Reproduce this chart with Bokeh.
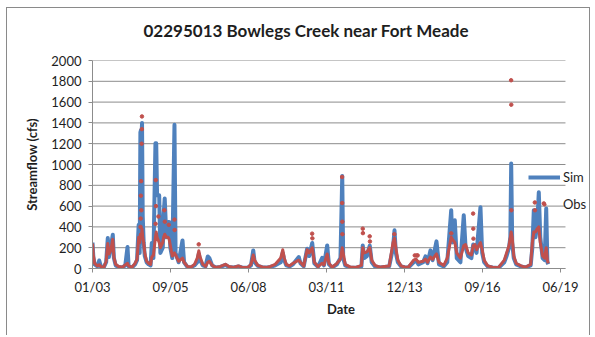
import pandas as pd
from bokeh.plotting import figure
from bokeh.models import FixedTicker, Legend, LegendItem, Range1d, DatetimeTickFormatter, Title
from bokeh.embed import file_html
from bokeh.resources import INLINE

# ---------------- data ----------------
dates = [
    # 2003
    "2003-01-01", "2003-01-12", "2003-01-28", "2003-03-05", "2003-03-28", "2003-04-20", "2003-05-25",
    "2003-06-25", "2003-07-16", "2003-07-30", "2003-08-22", "2003-09-18", "2003-10-02", "2003-10-25",
    "2003-12-01",
    # 2004
    "2004-01-20", "2004-02-25", "2004-03-25", "2004-04-08", "2004-05-20", "2004-06-30", "2004-07-25",
    "2004-08-15", "2004-08-28", "2004-09-06", "2004-09-14", "2004-09-20", "2004-09-27", "2004-10-06",
    "2004-10-18", "2004-11-01", "2004-11-25", "2004-12-20",
    # 2005
    "2005-01-15", "2005-01-30", "2005-02-20", "2005-03-18", "2005-03-28", "2005-04-08", "2005-05-05",
    "2005-05-20", "2005-06-20", "2005-07-01", "2005-07-15", "2005-08-05", "2005-08-28", "2005-09-10",
    "2005-09-25", "2005-10-20", "2005-11-17", "2005-12-01",
    # 2006
    "2006-01-10", "2006-02-28", "2006-03-20", "2006-05-01", "2006-06-15", "2006-08-01", "2006-09-05",
    "2006-09-25", "2006-10-12", "2006-11-15", "2006-12-20",
    # 2007
    "2007-01-18", "2007-02-08", "2007-03-15", "2007-05-01", "2007-07-01", "2007-09-02", "2007-10-15",
    "2007-12-15",
    # 2008
    "2008-02-15", "2008-04-01", "2008-06-15", "2008-07-25", "2008-08-23", "2008-09-10", "2008-10-20",
    "2008-12-15",
    # 2009
    "2009-02-15", "2009-04-01", "2009-06-01", "2009-08-10", "2009-09-05", "2009-09-25", "2009-10-20",
    "2009-12-01",
    # 2010
    "2010-01-15", "2010-03-30", "2010-04-20", "2010-06-01", "2010-07-15", "2010-08-10", "2010-09-18",
    "2010-10-15", "2010-12-01",
    # 2011
    "2011-01-24", "2011-02-15", "2011-03-29", "2011-04-20", "2011-06-01", "2011-08-01", "2011-09-15",
    "2011-10-08", "2011-10-20", "2011-11-15",
    # 2012
    "2012-01-15", "2012-04-01", "2012-06-10", "2012-06-27", "2012-07-15", "2012-08-20", "2012-09-25",
    "2012-10-20", "2012-12-01",
    # 2013
    "2013-02-01", "2013-04-01", "2013-06-01", "2013-07-20", "2013-08-08", "2013-08-25", "2013-09-20",
    "2013-11-01", "2013-12-15",
    # 2014
    "2014-02-01", "2014-04-10", "2014-05-10", "2014-06-10", "2014-08-10", "2014-09-09", "2014-10-05",
    "2014-11-12", "2014-12-10",
    # 2015
    "2015-01-28", "2015-03-01", "2015-05-01", "2015-06-15", "2015-08-05", "2015-08-20", "2015-09-20",
    "2015-10-15", "2015-12-01",
    # 2016
    "2016-01-13", "2016-02-05", "2016-03-10", "2016-04-20", "2016-05-13", "2016-06-05", "2016-06-25",
    "2016-08-14", "2016-09-05", "2016-10-01", "2016-11-15",
    # 2017
    "2017-01-15", "2017-04-01", "2017-06-15", "2017-07-15", "2017-08-15", "2017-09-01", "2017-09-12",
    "2017-09-25", "2017-10-15", "2017-11-15",
    # 2018
    "2018-01-15", "2018-03-15", "2018-05-20", "2018-06-10", "2018-06-29", "2018-07-20", "2018-08-10",
    "2018-09-01", "2018-09-20", "2018-10-20", "2018-11-15", "2018-12-05", "2018-12-20", "2018-12-31",
]

sim_cfs = [
    250, 110, 40, 20, 77, 15, 10, 60, 293, 110, 200, 325, 100, 30, 15,
    10, 30, 206, 20, 8, 40, 80, 420, 150, 1310, 1330, 1250, 1398, 500, 250, 120, 60, 40,
    30, 245, 100, 1205, 1205, 705, 705, 150, 200, 520, 673, 300, 447, 447, 200, 100, 1382, 150,
    60, 270, 60, 15, 10, 30, 60, 140, 80, 30, 20,
    116, 100, 30, 10, 15, 35, 15, 10,
    20, 10, 8, 30, 174, 60, 25, 12,
    10, 15, 30, 60, 150, 80, 30, 20,
    40, 110, 50, 20, 190, 120, 245, 50, 15,
    103, 30, 222, 40, 10, 40, 100, 889, 100, 30,
    10, 8, 20, 222, 100, 120, 220, 60, 20,
    10, 15, 20, 200, 367, 150, 60, 20, 12,
    10, 60, 80, 40, 60, 116, 50, 174, 80,
    261, 40, 20, 60, 560, 250, 464, 100, 60,
    512, 200, 120, 100, 230, 200, 150, 590, 150, 60, 20,
    10, 5, 60, 120, 200, 300, 1010, 250, 100, 40,
    20, 10, 30, 200, 561, 300, 400, 732, 300, 100, 80, 577, 60, 40,
]

obs_cfs = [
    240, 130, 50, 25, 35, 18, 10, 70, 240, 140, 170, 280, 110, 40, 20,
    12, 35, 50, 25, 10, 50, 90, 300, 250, 330, 300, 320, 380, 300, 250, 150, 70, 50,
    40, 110, 130, 300, 350, 300, 250, 200, 250, 300, 330, 300, 300, 280, 220, 120, 150, 130,
    70, 100, 60, 20, 12, 40, 100, 170, 110, 40, 20,
    60, 70, 30, 10, 20, 40, 20, 10,
    25, 10, 10, 40, 130, 80, 30, 15,
    10, 20, 40, 100, 180, 100, 40, 25,
    50, 80, 60, 25, 180, 150, 200, 60, 20,
    50, 35, 140, 50, 12, 50, 90, 200, 150, 40,
    15, 10, 30, 200, 150, 160, 200, 80, 30,
    12, 20, 25, 250, 290, 200, 80, 25, 15,
    12, 80, 90, 60, 70, 90, 60, 110, 90,
    140, 60, 30, 100, 300, 280, 250, 150, 100,
    220, 230, 150, 130, 220, 230, 180, 250, 180, 80, 25,
    12, 8, 80, 150, 220, 300, 350, 300, 120, 50,
    25, 12, 40, 250, 350, 350, 380, 400, 250, 120, 100, 200, 80, 50,
]

# isolated high observed values (scattered dots above the dense band)
obs_dot_dates = [
    "2004-09-08", "2004-09-10", "2004-09-12", "2004-09-15", "2004-09-18", "2004-09-22", "2004-09-25", "2004-09-26",
    "2005-03-20", "2005-03-22", "2005-03-25", "2005-04-25", "2005-07-10", "2005-07-16", "2005-09-05",
    "2005-11-17", "2005-11-19",
    "2006-09-24", "2010-09-17", "2010-09-20", "2011-10-06", "2011-10-07", "2011-10-09", "2011-10-10",
    "2012-06-27", "2012-06-29", "2012-09-24", "2012-09-27", "2013-08-06", "2014-04-25", "2014-05-20", "2014-06-01",
    "2015-08-06", "2016-05-12", "2016-05-14", "2016-05-16", "2017-09-11", "2017-09-13", "2017-09-14",
    "2018-07-12", "2018-07-14", "2018-11-04",
]
obs_dot_cfs = [
    400, 480, 700, 840, 560, 1200, 1340, 1462,
    430, 850, 600, 500, 560, 450, 420,
    470, 370,
    232, 335, 290, 880, 630, 450, 330,
    383, 340, 309, 260, 330, 126, 126, 126,
    338, 528, 383, 287, 1810, 1575, 560,
    635, 560, 626,
]

tick_dates = ["2003-01-01", "2005-09-27", "2008-06-23", "2011-03-20", "2013-12-14", "2016-09-09", "2019-06-06"]
tick_labels = ["01/03", "09/05", "06/08", "03/11", "12/13", "09/16", "06/19"]
y_ticks = [0, 200, 400, 600, 800, 1000, 1200, 1400, 1600, 1800, 2000]
title_text = "02295013 Bowlegs Creek near Fort Meade"

# ---------------- figure ----------------
FONT = "Lato"
BLUE = "#4F81BD"
RED = "#C0504D"
GRID = "#8c8c8c"
TXT = "#1e1e1e"

AXIS_START = pd.Timestamp("2003-01-01")
AXIS_END = pd.Timestamp("2019-08-09")     # end of the drawn axis / gridlines
FRAME_END = pd.Timestamp("2020-06-12")    # frame continues under the legend

x_dates = pd.to_datetime(pd.Series(dates))
x_dot_dates = pd.to_datetime(pd.Series(obs_dot_dates))
tick_ms = [pd.Timestamp(d).value // 10**6 for d in tick_dates]

p = figure(
    width=584, height=328,
    x_axis_type="datetime",
    x_range=Range1d(AXIS_START, FRAME_END),
    y_range=Range1d(0, 2000),
    output_backend="svg", toolbar_location=None,
    min_border_left=85, min_border_right=2, min_border_top=52, min_border_bottom=68,
)
p.margin = (7, 0, 0, 6)
p.styles = {
    "border-left": "1px solid #8a8a8a",
    "border-top": "1px solid #8a8a8a",
    "border-right": "1px solid #8a8a8a",
}

# title: a blank spacer panel next to the frame, then the real title above it
p.title = None
p.add_layout(Title(text=" ", text_font=FONT, text_font_size="10px", standoff=6), "above")
p.add_layout(Title(text=title_text, text_font=FONT, text_font_size="17px", text_font_style="bold",
                   text_color=TXT, align="left", offset=51, vertical_align="bottom", standoff=0), "above")

p.outline_line_color = None
p.background_fill_color = "white"
p.border_fill_color = "white"

p.xgrid.visible = False
p.ygrid.visible = False
# horizontal gridlines that stop where the axis stops
p.segment(x0=[AXIS_START] * len(y_ticks), x1=[AXIS_END] * len(y_ticks), y0=y_ticks, y1=y_ticks,
          line_color=GRID, line_width=1)

p.yaxis.ticker = FixedTicker(ticks=y_ticks)
p.xaxis.ticker = FixedTicker(ticks=tick_ms)
p.xaxis.formatter = DatetimeTickFormatter(days="%m/%y", months="%m/%y", years="%m/%y")
p.xaxis.major_label_overrides = {t: lab for t, lab in zip(tick_ms, tick_labels)}
p.xaxis.bounds = (AXIS_START.value // 10**6, AXIS_END.value // 10**6)

for ax in (p.xaxis, p.yaxis):
    ax.axis_line_color = GRID
    ax.major_tick_line_color = GRID
    ax.minor_tick_line_color = None
    ax.major_tick_in = 0
    ax.major_tick_out = 4
    ax.major_label_text_font = FONT
    ax.major_label_text_font_size = "13px"
    ax.major_label_text_color = TXT
    ax.axis_label_text_font = FONT
    ax.axis_label_text_font_size = "13px"
    ax.axis_label_text_font_style = "bold"
    ax.axis_label_text_color = TXT

p.yaxis.axis_label = "Streamflow (cfs)"
p.yaxis.major_label_standoff = 7
p.yaxis.axis_label_standoff = 8
p.xaxis.axis_label = "Date"
p.xaxis.major_label_standoff = 6
p.xaxis.axis_label_standoff = 3

sim = p.line(x_dates, sim_cfs, line_color=BLUE, line_width=4, line_join="round")
obs_band = p.line(x_dates, obs_cfs, line_color=RED, line_width=3, line_join="round")
obs_dots = p.scatter(x_dot_dates, obs_dot_cfs, size=3.5, color=RED)

legend = Legend(
    items=[LegendItem(label="Sim", renderers=[sim]), LegendItem(label="Obs", renderers=[obs_dots])],
    location=(436, 54),
    border_line_color=None, background_fill_alpha=0,
    padding=0, margin=0, spacing=7,
    glyph_width=32, glyph_height=8, label_height=20, label_standoff=3,
    label_text_font=FONT, label_text_font_size="13px", label_text_color=TXT,
)
p.add_layout(legend, "center")

open("out.html", "w").write(file_html(p, INLINE))
